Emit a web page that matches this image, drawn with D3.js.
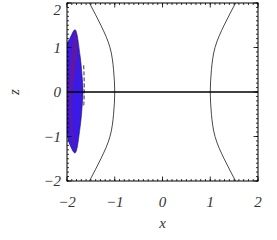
<!DOCTYPE html>
<html>
<head>
<meta charset="utf-8">
<script src="https://cdn.jsdelivr.net/npm/d3@7"></script>
<style>
  body { margin: 0; background: #fff; }
  text { font-family: "Liberation Serif", serif; font-style: italic; }
</style>
</head>
<body>
<div id="chart"></div>
<script>
const width = 277
const height = 240

// tick values
const xTicks = [-2, -1, 0, 1, 2]
const zTicks = [-2, -1, 0, 1, 2]

// hyperbola-like contour, right branch (left branch is its mirror)
const curveZ = [-2, -1.5, -1, -0.5, 0, 0.5, 1, 1.5, 2]
const curveX = [1.53, 1.29, 1.10, 1.025, 1.0, 1.025, 1.10, 1.29, 1.53]

// filled blob near x = -2 (outer boundary)
const blobX = [-1.832, -1.728, -1.686, -1.665, -1.686, -1.728, -1.832, -1.937, -2.0, -2.0, -1.937]
const blobZ = [1.40, 0.83, 0.38, 0, -0.36, -0.81, -1.37, -1.19, -0.92, 1.06, 1.21]

// inner purple band
const coreX = [-1.83, -1.79, -1.84, -1.90, -1.88, -1.83, -1.89, -1.95, -1.95, -1.90]
const coreZ = [1.34, 0.95, 0.38, -0.18, -0.74, -1.30, -1.08, -0.40, 0.28, 0.95]

// dashed contour at the blob edge
const dashX = [-1.650, -1.640, -1.642, -1.652]
const dashZ = [0.60, 0.20, -0.15, -0.34]

const margin = { left: 67, right: 19, top: 3, bottom: 59 }

const x = d3.scaleLinear().domain([-2, 2]).range([margin.left, width - margin.right])
const z = d3.scaleLinear().domain([-2, 2]).range([height - margin.bottom, margin.top])

const svg = d3.select('#chart').append('svg')
  .attr('width', width)
  .attr('height', height)

svg.append('defs').append('clipPath').attr('id', 'clip')
  .append('rect')
  .attr('x', x(-2)).attr('y', z(2))
  .attr('width', x(2) - x(-2)).attr('height', z(-2) - z(2))

const plot = svg.append('g').attr('clip-path', 'url(#clip)')

const pts = (xs, zs) => xs.map((v, i) => [x(v), z(zs[i])])

const closed = d3.line().curve(d3.curveCatmullRomClosed.alpha(0.5))
const open = d3.line().curve(d3.curveNatural)

plot.append('path')
  .attr('d', closed(pts(blobX, blobZ)))
  .attr('fill', '#3a1ae6')
  .attr('stroke', '#1a1050')
  .attr('stroke-width', 0.6)

plot.append('path')
  .attr('d', closed(pts(coreX, coreZ)))
  .attr('fill', '#66189a')
  .attr('opacity', 0.85)

plot.append('path')
  .attr('d', open(pts(dashX, dashZ)))
  .attr('fill', 'none')
  .attr('stroke', '#000')
  .attr('stroke-width', 0.8)
  .attr('stroke-dasharray', '4,2')

// both branches
;[1, -1].forEach(s => {
  plot.append('path')
    .attr('d', open(pts(curveX.map(v => v * s), curveZ)))
    .attr('fill', 'none')
    .attr('stroke', '#333')
    .attr('stroke-width', 0.9)
})

// z = 0 line
plot.append('line')
  .attr('x1', x(-2)).attr('x2', x(2))
  .attr('y1', z(0)).attr('y2', z(0))
  .attr('stroke', '#000')
  .attr('stroke-width', 1.3)

// ticks, all pointing inward
const minor = d3.range(-2, 2.0001, 0.1).map(v => Math.round(v * 10) / 10)
const axes = svg.append('g').attr('stroke', '#000').attr('stroke-width', 0.8)

const drawTicks = (vals, len) => {
  vals.forEach(v => {
    axes.append('line').attr('x1', x(v)).attr('x2', x(v)).attr('y1', z(-2)).attr('y2', z(-2) - len)
    axes.append('line').attr('x1', x(v)).attr('x2', x(v)).attr('y1', z(2)).attr('y2', z(2) + len)
    axes.append('line').attr('y1', z(v)).attr('y2', z(v)).attr('x1', x(-2)).attr('x2', x(-2) + len)
    axes.append('line').attr('y1', z(v)).attr('y2', z(v)).attr('x1', x(2)).attr('x2', x(2) - len)
  })
}
drawTicks(minor, 2)
drawTicks(xTicks, 4.5)

svg.append('rect')
  .attr('x', x(-2)).attr('y', z(2))
  .attr('width', x(2) - x(-2)).attr('height', z(-2) - z(2))
  .attr('fill', 'none')
  .attr('stroke', '#000')
  .attr('stroke-width', 1)

const fmt = v => v < 0 ? '\u2212' + Math.abs(v) : String(v)

svg.append('g').selectAll('text')
  .data(xTicks)
  .join('text')
  .attr('x', d => x(d))
  .attr('y', 207)
  .attr('text-anchor', 'middle')
  .attr('font-size', 15)
  .attr('fill', '#333')
  .text(fmt)

svg.append('g').selectAll('text')
  .data(zTicks)
  .join('text')
  .attr('x', 61)
  .attr('y', d => Math.max(z(d) + 5, 15))
  .attr('text-anchor', 'end')
  .attr('font-size', 15)
  .attr('fill', '#333')
  .text(fmt)

svg.append('text')
  .attr('x', x(0))
  .attr('y', 228)
  .attr('text-anchor', 'middle')
  .attr('font-size', 15)
  .attr('fill', '#333')
  .text('x')

svg.append('text')
  .attr('transform', `translate(19,${z(0)}) rotate(-90)`)
  .attr('text-anchor', 'middle')
  .attr('font-size', 15)
  .attr('fill', '#333')
  .text('z')
</script>
</body>
</html>
